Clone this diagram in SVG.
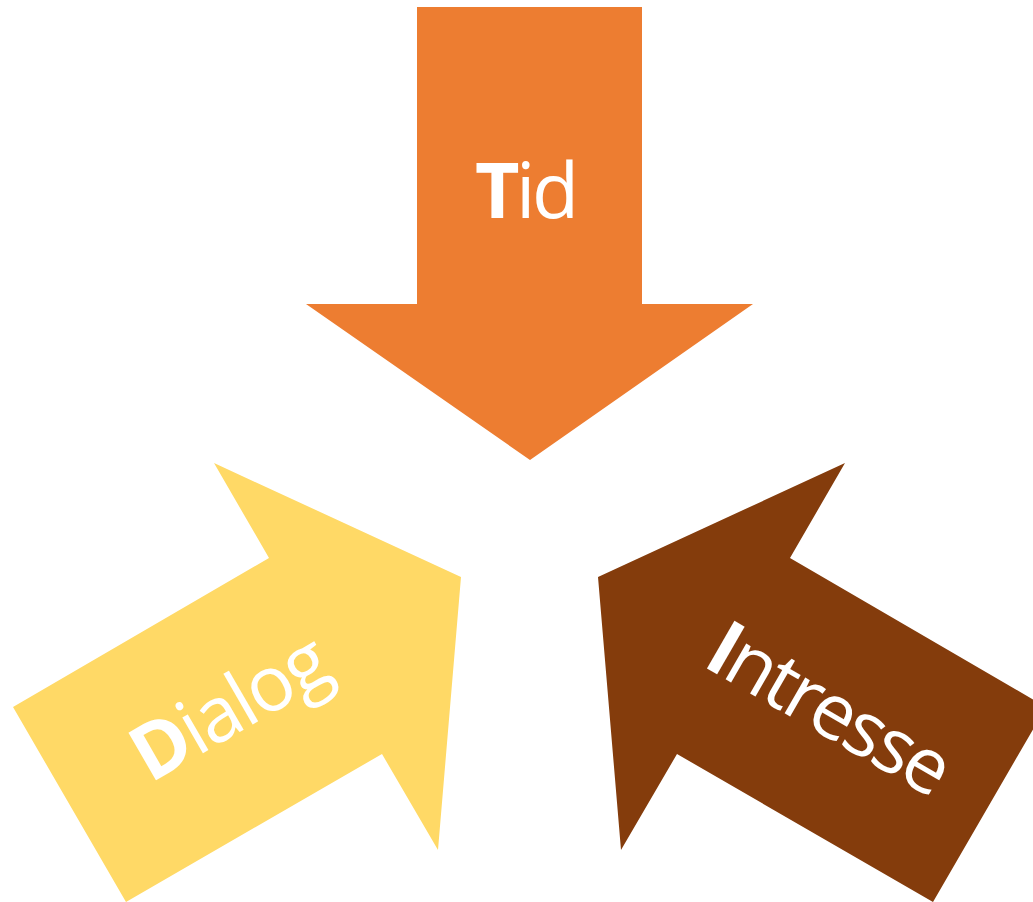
<svg xmlns="http://www.w3.org/2000/svg" width="1033" height="902" viewBox="0 0 1033 902">
<style>
.lbl{font-family:"Open Sans","Noto Sans",sans-serif;font-size:77px;fill:#ffffff;text-anchor:middle}
.b{font-weight:bold}
</style>
<rect width="1033" height="902" fill="#ffffff"/>
<g id="tid">
<polygon points="417,7 642,7 642,304 753,304 530,460 306,304 417,304" fill="#ED7D31"/>
<text class="lbl" x="527" y="218" textLength="104"><tspan class="b">T</tspan>id</text>
</g>
<g id="dialog">
<polygon points="13,707 269,558 214,463 461,577 438,850 382,754 126,902" fill="#FFD966"/>
<text class="lbl" x="243" y="730" textLength="215" transform="rotate(-30 243 730)"><tspan class="b">D</tspan>ialog</text>
</g>
<g id="intresse">
<polygon points="598,577 845,463 790,558 1046,707 933,902 677,754 621,850" fill="#843C0C"/>
<text class="lbl" x="817" y="732" textLength="268" transform="rotate(30 817 732)"><tspan class="b">I</tspan>ntresse</text>
</g>
<g id="connectors"/>
</svg>
